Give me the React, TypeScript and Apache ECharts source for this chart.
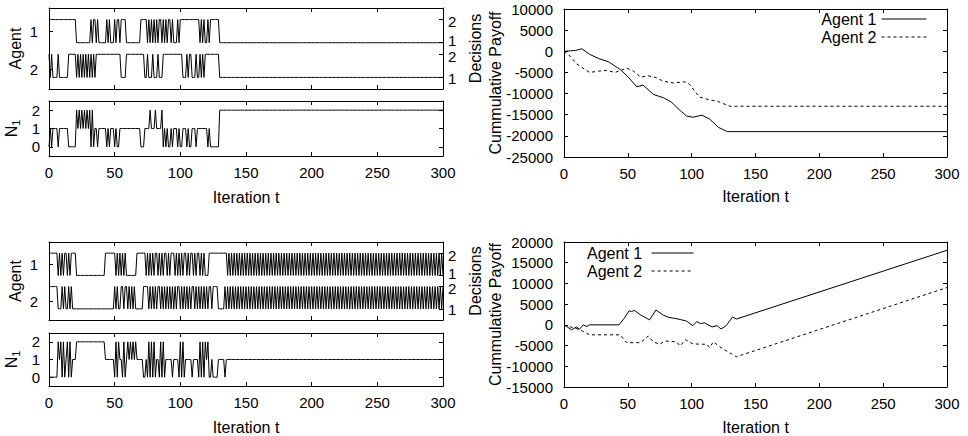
import React, { useEffect, useRef } from "react";
import * as echarts from "echarts";

// ---------------- data ----------------
// Decisions per iteration t = 0..300, written in groups of ten iterations.
const agent1DecisionsTop = [
  "2222222222", "2222222222", "2111111111", "1121221211", "1111212111",
  "2122122221", "1111111111", "2222212121", "2121221212", "1221211121",
  "2222222222", "2222212121", "1212222222", "1111111111", "1111111111",
  "1111111111", "1111111111", "1111111111", "1111111111", "1111111111",
  "1111111111", "1111111111", "1111111111", "1111111111", "1111111111",
  "1111111111", "1111111111", "1111111111", "1111111111", "1111111111",
  "1",
].join("");
const agent2DecisionsTop = [
  "2121111211", "1111122222", "2121212121", "2121212222", "2222222222",
  "2222211112", "2222222222", "2221121112", "1112111222", "2222222222",
  "2211121221", "1121121212", "2222222222", "1111111111", "1111111111",
  "1111111111", "1111111111", "1111111111", "1111111111", "1111111111",
  "1111111111", "1111111111", "1111111111", "1111111111", "1111111111",
  "1111111111", "1111111111", "1111111111", "1111111111", "1111111111",
  "1",
].join("");
const n1Top = [
  "0101111011", "1111100000", "0212121212", "1202011011", "1111010111",
  "0100111111", "1111111111", "0001111211", "1211112010", "1001011101",
  "0011101001", "1101111111", "1010000000", "2222222222", "2222222222",
  "2222222222", "2222222222", "2222222222", "2222222222", "2222222222",
  "2222222222", "2222222222", "2222222222", "2222222222", "2222222222",
  "2222222222", "2222222222", "2222222222", "2222222222", "2222222222",
  "2",
].join("");

const agent1DecisionsBottom = [
  "2222222121", "2122121222", "2111111111", "1111111111", "1112222222",
  "2121212121", "1111111222", "2222121212", "1221212122", "1212221212",
  "1212212122", "1212212121", "1122222222", "2222221212", "1212121212",
  "1212121212", "1212121212", "1212121212", "1212121212", "1212121212",
  "1212121212", "1212121212", "1212121212", "1212121212", "1212121212",
  "1212121212", "1212121212", "1212121212", "1212121212", "1212121212",
  "1",
].join("");
const agent2DecisionsBottom = [
  "2222222111", "2121121211", "1111111111", "1111111111", "1111111111",
  "2121122122", "1212121111", "1122221212", "1212212121", "2121212122",
  "1212121212", "2121212121", "2122122221", "1111212121", "2121212121",
  "2121212121", "2121212121", "2121212121", "2121212121", "2121212121",
  "2121212121", "2121212121", "2121212121", "2121212121", "2121212121",
  "2121212121", "2121212121", "2121212121", "2121212121", "2121212121",
  "2",
].join("");
const n1Bottom = [
  "0000000212", "0201202011", "1222222222", "2222222222", "2221111111",
  "0202110201", "2121212111", "1100102020", "2011020201", "1111011110",
  "2020111110", "1111020202", "1200100001", "1111011111", "1111111111",
  "1111111111", "1111111111", "1111111111", "1111111111", "1111111111",
  "1111111111", "1111111111", "1111111111", "1111111111", "1111111111",
  "1111111111", "1111111111", "1111111111", "1111111111", "1111111111",
  "1",
].join("");

// Cumulative payoff, [t, value]
const payoffAgent1Top = [
  [0, 0], [5, 100], [9, 200], [14, 600], [20, -700], [27, -1700], [35, -2500],
  [44, -4300], [50, -6000], [57, -8400], [62, -8000], [70, -10200], [78, -11000],
  [84, -12000], [91, -14000], [96, -15300], [101, -15600], [108, -15100],
  [114, -16000], [121, -18000], [128, -19000], [300, -19000],
];
const payoffAgent2Top = [
  [0, 0], [3, -600], [10, -3000], [20, -5000], [27, -4700], [33, -4500],
  [40, -5000], [49, -4000], [54, -4600], [60, -6100], [66, -5800], [72, -6200],
  [78, -7100], [86, -7500], [94, -7200], [98, -7700], [106, -10800],
  [114, -11500], [120, -11800], [130, -13000], [300, -13000],
];
const payoffAgent1Bottom = [
  [0, 0], [3, -600], [6, -1200], [8, -800], [10, -500], [12, -1100], [15, 0],
  [18, -400], [20, 0], [43, 0], [47, 1500], [51, 3400], [53, 3200], [55, 3500],
  [60, 2400], [67, 1200], [72, 3600], [78, 2300], [82, 1800], [86, 1600],
  [91, 1300], [96, 900], [101, -200], [104, 800], [107, 300], [110, 500],
  [116, -500], [120, -200], [123, -1000], [127, -200], [132, 1900], [135, 1400],
  [300, 18000],
];
const payoffAgent2Bottom = [
  [0, 0], [5, -500], [12, -1100], [20, -2400], [44, -2400], [49, -4300],
  [60, -4300], [64, -3200], [66, -2700], [70, -4100], [75, -4700], [79, -3900],
  [88, -4100], [91, -5100], [95, -3600], [101, -4600], [112, -4700],
  [114, -5500], [117, -4100], [123, -5500], [135, -7700], [300, 9000],
];

// Tick labels
const agentLeftTickValues = [1.35, 3];
const agentLeftTickLabels = ["2", "1"];
const decisionTickValues = [1, 2, 2.5, 3.5];
const decisionLabelValues = [0.95, 1.9, 2.6, 3.4];
const decisionTickLabels = ["1", "2", "1", "2"];
const n1TickValues = [0, 1, 2];
const seriesNames = ["Agent 1", "Agent 2"];

// ---------------- chart ----------------
const FONT = '"Liberation Sans", Arial, Helvetica, sans-serif';
const BLACK = "#000";
const AGENT1_OFFSET = 1.5;
const txt = { color: BLACK, fontSize: 15, fontFamily: FONT };
const nameTxt = { color: BLACK, fontSize: 16, fontFamily: FONT };

const toPoints = (seq: string, offset = 0) =>
  seq.split("").map((c, t) => [t, Number(c) + offset]);

const axisLine = { show: true, onZero: false, lineStyle: { color: BLACK, width: 1 } };
const tick = { show: true, inside: true, length: 4, lineStyle: { color: BLACK, width: 1 } };

function buildOption() {
  const grids = [
    { left: 49, top: 8, width: 394, height: 81 },
    { left: 49, top: 101, width: 394, height: 55 },
    { left: 564, top: 9, width: 383, height: 148 },
    { left: 49, top: 242, width: 394, height: 78 },
    { left: 49, top: 333, width: 394, height: 54 },
    { left: 564, top: 242, width: 383, height: 146 },
  ];
  const kinds = ["agent", "n1", "pay", "agent", "n1", "pay"];
  const payRange = [null, null, [-25000, 10000], null, null, [-15000, 20000]];
  const xNameGap = [0, 33, 31, 0, 33, 32];

  const xAxis: any[] = [];
  const yAxis: any[] = [];
  grids.forEach((_, g) => {
    const kind = kinds[g];
    const withLabels = kind !== "agent";
    xAxis.push({
      type: "value", gridIndex: g, position: "bottom", min: 0, max: 300, interval: 50,
      axisLine, axisTick: tick, splitLine: { show: false },
      axisLabel: { show: withLabels, margin: 9, ...txt },
      name: withLabels ? "Iteration t" : "", nameLocation: "middle", nameGap: xNameGap[g],
      nameMoveOverlap: false, nameTextStyle: nameTxt,
    });
    xAxis.push({
      type: "value", gridIndex: g, position: "top", min: 0, max: 300, interval: 50,
      axisLine, axisTick: tick, splitLine: { show: false }, axisLabel: { show: false },
    });
    if (kind === "agent") {
      yAxis.push({
        type: "value", gridIndex: g, position: "left", min: 0.5, max: 4,
        axisLine, splitLine: { show: false },
        axisTick: { ...tick, customValues: agentLeftTickValues },
        axisLabel: {
          ...txt, margin: 11, customValues: agentLeftTickValues,
          formatter: (v: number) => agentLeftTickLabels[agentLeftTickValues.indexOf(v)] ?? "",
        },
        name: "Agent", nameLocation: "middle", nameGap: 26, nameRotate: 90,
        nameMoveOverlap: false, nameTextStyle: nameTxt,
      });
      yAxis.push({
        type: "value", gridIndex: g, position: "right", min: 0.5, max: 4,
        axisLine, splitLine: { show: false },
        axisTick: { ...tick, customValues: decisionTickValues },
        axisLabel: {
          ...txt, margin: 5, customValues: decisionLabelValues,
          formatter: (v: number) => decisionTickLabels[decisionLabelValues.indexOf(v)] ?? "",
        },
        name: "Decisions", nameLocation: "middle", nameGap: 24, nameRotate: 90,
        nameMoveOverlap: false, nameTextStyle: nameTxt,
      });
    } else if (kind === "n1") {
      yAxis.push({
        type: "value", gridIndex: g, position: "left", min: -0.5, max: 2.5,
        axisLine, splitLine: { show: false },
        axisTick: { ...tick, customValues: n1TickValues },
        axisLabel: { ...txt, margin: 9, customValues: n1TickValues },
        name: "{n|N}{s|1}", nameLocation: "middle", nameGap: 28, nameRotate: 90,
        nameMoveOverlap: false,
        nameTextStyle: {
          ...nameTxt,
          rich: {
            n: { ...nameTxt, lineHeight: 18, verticalAlign: "top" },
            s: { ...nameTxt, fontSize: 11, lineHeight: 18, padding: [8, 0, 0, 0] },
          },
        },
      });
      yAxis.push({
        type: "value", gridIndex: g, position: "right", min: -0.5, max: 2.5,
        axisLine, splitLine: { show: false },
        axisTick: { ...tick, customValues: n1TickValues },
        axisLabel: { show: false },
      });
    } else {
      const r = payRange[g] as number[];
      yAxis.push({
        type: "value", gridIndex: g, position: "left", min: r[0], max: r[1], interval: 5000,
        axisLine, axisTick: tick, splitLine: { show: false },
        axisLabel: { ...txt, margin: 11, formatter: (v: number) => String(v) },
        name: "Cummulative Payoff", nameLocation: "middle", nameGap: 61, nameRotate: 90,
        nameMoveOverlap: false, nameTextStyle: nameTxt,
      });
      yAxis.push({
        type: "value", gridIndex: g, position: "right", min: r[0], max: r[1], interval: 5000,
        axisLine, axisTick: tick, splitLine: { show: false }, axisLabel: { show: false },
      });
    }
  });

  const line = (name: string, g: number, data: any[], dashed = false) => ({
    type: "line", name, xAxisIndex: 2 * g, yAxisIndex: 2 * g, data,
    symbol: "none", showSymbol: false, silent: true,
    lineStyle: { color: BLACK, width: 1, type: dashed ? [3, 3] : "solid" },
    itemStyle: { color: BLACK },
  });

  const series = [
    line("a1top", 0, toPoints(agent1DecisionsTop, AGENT1_OFFSET)),
    line("a2top", 0, toPoints(agent2DecisionsTop)),
    line("n1top", 1, toPoints(n1Top)),
    line(seriesNames[0], 2, payoffAgent1Top),
    line(seriesNames[1], 2, payoffAgent2Top, true),
    line("a1bottom", 3, toPoints(agent1DecisionsBottom, AGENT1_OFFSET)),
    line("a2bottom", 3, toPoints(agent2DecisionsBottom)),
    line("n1bottom", 4, toPoints(n1Bottom)),
    line(seriesNames[0] + " ", 5, payoffAgent1Bottom),
    line(seriesNames[1] + " ", 5, payoffAgent2Bottom, true),
  ];

  const legendBase = {
    orient: "vertical", align: "right", itemHeight: 14, itemGap: 2, padding: 0,
    selectedMode: false, textStyle: nameTxt,
    itemStyle: { opacity: 0, borderWidth: 0 },
    lineStyle: { width: 1 },
  };

  return {
    animation: false,
    grid: grids.map((g) => ({ ...g, containLabel: false })),
    xAxis,
    yAxis,
    series,
    legend: [
      { ...legendBase, data: seriesNames, right: 41, top: 11, itemWidth: 45 },
      {
        ...legendBase, data: seriesNames.map((n) => n + " "), left: 587, top: 245, itemWidth: 42,
      },
    ],
  };
}

export default function App() {
  const ref = useRef<HTMLDivElement>(null);
  useEffect(() => {
    if (!ref.current) return;
    const chart = echarts.init(ref.current, undefined, { renderer: "svg" });
    chart.setOption(buildOption() as any);
    return () => chart.dispose();
  }, []);
  return (
    <div
      ref={ref}
      style={{ position: "fixed", left: 0, top: 0, width: 968, height: 436, background: "#fff" }}
    />
  );
}
